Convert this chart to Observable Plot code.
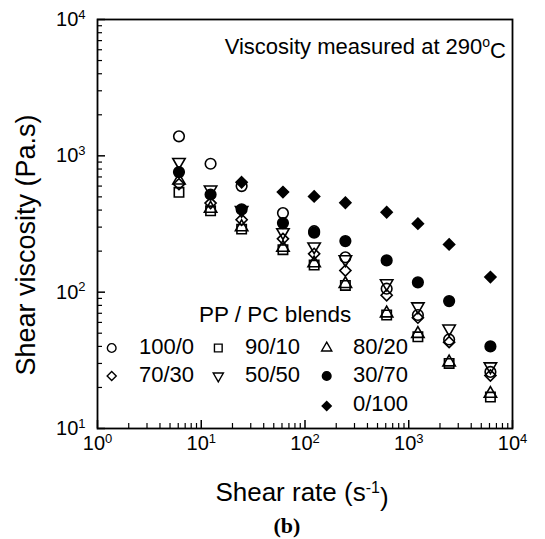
<!DOCTYPE html>
<html><head><meta charset="utf-8">
<script src="https://cdn.jsdelivr.net/npm/d3@7"></script>
<script src="https://cdn.jsdelivr.net/npm/@observablehq/plot@0.6"></script>
<style>body{margin:0;background:#fff} svg{display:block}</style>
</head><body><div id="chart"></div>
<script>
// ---- data ----
const shearRates = [6.1, 12.3, 24.5, 61.3, 122.5, 245, 612.5, 1225, 2450, 6125];
const blends = ["100/0", "90/10", "80/20", "70/30", "50/50", "30/70", "0/100"];
const visc_100_0 = [1390, 875, 600, 380, 280, 180, 106, 68, 45, 26];
const visc_90_10 = [540, 395, 290, 205, 158, 112, 68, 47, 30, 17];
const visc_80_20 = [660, 410, 300, 212, 163, 115, 70, 49.5, 30.6, 18];
const visc_70_30 = [620, 450, 340, 246, 191, 144, 95, 65, 43, 24.5];
const visc_50_50 = [900, 565, 400, 275, 216, 174, 116, 78.5, 54, 28.5];
const visc_30_70 = [760, 520, 405, 321, 273, 237, 171, 118, 86, 40];
const visc_0_100 = [null, null, 640, 542, 504, 453, 386, 318, 224, 129];
const xTicks = [1, 10, 100, 1000, 10000];
const yTicks = [10, 100, 1000, 10000];
const xTitle = "Shear rate (s";
const xTitleSup = "-1";
const yTitle = "Shear viscosity (Pa.s)";
const noteText = "Viscosity measured at 290";
const legendTitle = "PP / PC blends";
const panelLabel = "(b)";

// ---- build table ----
const seriesValues = [visc_100_0, visc_90_10, visc_80_20, visc_70_30, visc_50_50, visc_30_70, visc_0_100];
const rows = [];
blends.forEach((b, i) => seriesValues[i].forEach((v, j) => { if (v != null) rows.push({blend: b, rate: shearRates[j], visc: v}); }));

const style = {
  "100/0": {symbol: "circle", fill: "none", rotate: 0, r: 5.3},
  "90/10": {symbol: "square", fill: "none", rotate: 0, r: 5.3},
  "80/20": {symbol: "triangle", fill: "none", rotate: 0, r: 4.6},
  "70/30": {symbol: "diamond2", fill: "none", rotate: 0, r: 5.0},
  "50/50": {symbol: "triangle", fill: "none", rotate: 180, r: 4.6},
  "30/70": {symbol: "circle", fill: "black", rotate: 0, r: 5.3},
  "0/100": {symbol: "diamond2", fill: "black", rotate: 0, r: 5.0}
};

const W = 545, H = 539, mL = 97, mR = 33, mT = 19, mB = 111;
const plotW = W - mL - mR, plotH = H - mT - mB;

const xMinor = [], yMinor = [];
for (let k = 0; k < 4; k++) for (let m = 2; m <= 9; m++) xMinor.push(m * 10 ** k);
for (let k = 1; k < 4; k++) for (let m = 2; m <= 9; m++) yMinor.push(m * 10 ** k);

const sup = d => `10^${Math.round(Math.log10(d))}`;

const dotMarks = blends.map(b => Plot.dot(rows.filter(d => d.blend === b), {
  x: "rate", y: "visc", symbol: style[b].symbol, r: style[b].r,
  fill: style[b].fill, stroke: "black", strokeWidth: 1.6, rotate: style[b].rotate
}));

const svg = Plot.plot({
  width: W, height: H,
  marginLeft: mL, marginRight: mR, marginTop: mT, marginBottom: mB,
  style: {fontFamily: "'Liberation Sans', Arial, sans-serif", background: "white", color: "black"},
  x: {type: "log", domain: [1, 10000], label: null},
  y: {type: "log", domain: [10, 10000], label: null},
  marks: [
    Plot.ruleX(xMinor, {x: d => d, insetTop: plotH - 5, strokeWidth: 1.2}),
    Plot.ruleX(xTicks, {x: d => d, insetTop: plotH - 8, strokeWidth: 1.5}),
    Plot.ruleY(yMinor, {y: d => d, insetRight: plotW - 5, strokeWidth: 1.2}),
    Plot.ruleY(yTicks, {y: d => d, insetRight: plotW - 8, strokeWidth: 1.5}),
    Plot.axisX(xTicks, {tickSize: 0, tickPadding: 7, fontSize: 20, tickFormat: sup, label: null}),
    Plot.axisY(yTicks, {tickSize: 0, tickPadding: 12, fontSize: 20, tickFormat: sup, label: null}),
    Plot.frame({strokeWidth: 1.8}),
    ...dotMarks
  ]
});

const S = d3.select(svg);
S.selectAll("g[aria-label='x-axis tick label'] text, g[aria-label='y-axis tick label'] text").each(function () {
  const [b, e] = this.textContent.split("^");
  const t = d3.select(this);
  t.text(null);
  t.append("tspan").text(b);
  t.append("tspan").attr("dy", "-0.55em").attr("font-size", "13px").text(e);
});

const font = "'Liberation Sans', Arial, sans-serif";
const g = S.append("g").attr("font-family", font).attr("fill", "black").attr("text-anchor", "start");

// axis titles
const xt = g.append("text").attr("x", 302).attr("y", 501).attr("text-anchor", "middle").attr("font-size", 26);
xt.append("tspan").text(xTitle);
xt.append("tspan").attr("dy", "-0.5em").attr("font-size", 16).text(xTitleSup);
xt.append("tspan").attr("dy", "0.5em").text(")");
g.append("text").attr("transform", "translate(35,245) rotate(-90)").attr("text-anchor", "middle")
  .attr("font-size", 27).text(yTitle);

// panel label
g.append("text").attr("x", 287).attr("y", 533).attr("text-anchor", "middle")
  .attr("font-family", "'Liberation Serif', 'Times New Roman', serif").attr("font-weight", "bold")
  .attr("font-size", 22).text(panelLabel);

// note
const nt = g.append("text").attr("x", 506).attr("y", 54).attr("text-anchor", "end").attr("font-size", 22);
nt.append("tspan").text(noteText);
nt.append("tspan").attr("dy", "-0.5em").attr("font-size", 14).text("o");
nt.append("tspan").attr("dy", "0.5em").text("C");

// legend
g.append("text").attr("x", 199).attr("y", 321.5).attr("font-size", 22.5).text(legendTitle);
const legendCols = [[111.7, 139], [218.3, 245], [326.7, 353]];
const legendRows = [[348, 353.5], [376, 382], [406, 410.5]];
const legendOrder = ["100/0", "90/10", "80/20", "70/30", "50/50", "30/70", "0/100"];
const symMap = {circle: d3.symbolCircle, square: d3.symbolSquare, triangle: d3.symbolTriangle, diamond2: d3.symbolDiamond2 || d3.symbolSquare};
legendOrder.forEach((b, i) => {
  const row = i < 3 ? 0 : i < 6 ? 1 : 2;
  const col = i < 3 ? i : i < 6 ? i - 3 : 2;
  const [sx, tx] = legendCols[col];
  const [sy, ty] = legendRows[row];
  const st = style[b];
  const rr = st.r * 0.82;
  g.append("path").attr("d", d3.symbol(symMap[st.symbol], Math.PI * rr * rr)())
    .attr("transform", `translate(${sx},${sy}) rotate(${st.rotate})`)
    .attr("fill", st.fill).attr("stroke", "black").attr("stroke-width", 1.4);
  g.append("text").attr("x", tx).attr("y", ty).attr("font-size", 22).text(b);
});

document.getElementById("chart").appendChild(svg);
</script>
</body></html>
